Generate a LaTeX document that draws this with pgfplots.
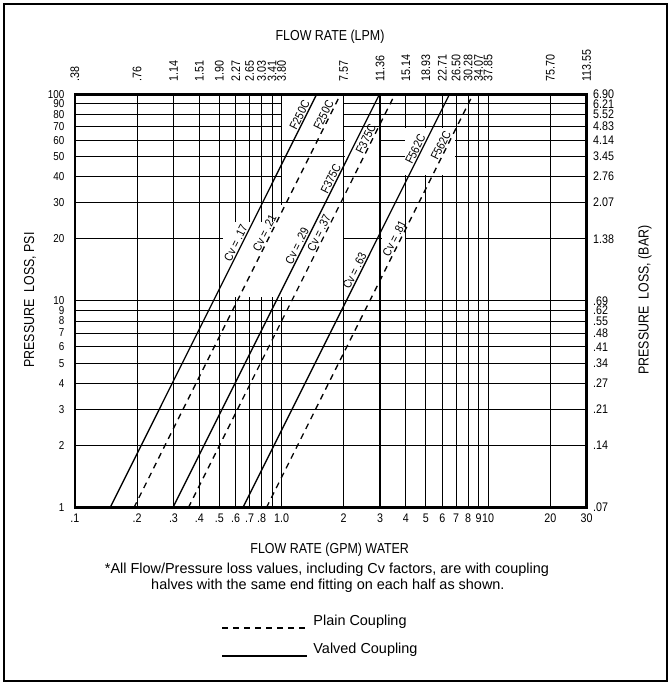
\documentclass[border=0pt]{standalone}
\usepackage{fontspec}
\setmainfont{Liberation Sans}[FakeStretch=0.86]
\newfontfamily\plainfont{Liberation Sans}
\usepackage{pgfplots}
\pgfplotsset{compat=1.18}

\newcommand{\tickfont}{\fontsize{12.5}{14}\selectfont}
\newcommand{\lefttickfont}{\fontsize{11.5}{13}\selectfont}
\newcommand{\curvefont}{\fontsize{12}{13}\selectfont}
\newcommand{\titlefont}{\fontsize{14.5}{16}\selectfont}
\newcommand{\notefont}{\plainfont\fontsize{14.5}{16}\selectfont}

\begin{document}
\begin{tikzpicture}
  % page = 671 x 685 bp, origin at the lower left corner of the plot box
  \path[use as bounding box] (-74.9bp,-177.3bp) rectangle (596.1bp,507.7bp);

  \begin{axis}[
      xmode=log, ymode=log,
      scale only axis, width=511.8bp, height=413.4bp,
      xmin=0.1, xmax=30, ymin=1, ymax=100,
      xtick={0.1,0.2,0.3,0.4,0.5,0.6,0.7,0.8,0.9,1,2,3,4,5,6,7,8,9,10,20,30},
      xticklabels={.1,.2,.3,.4,.5,.6,.7,.8,,1.0,2,3,4,5,6,7,8,9,10,20,30},
      ytick={1,2,3,4,5,6,7,8,9,10,20,30,40,50,60,70,80,90,100},
      yticklabels={1,2,3,4,5,6,7,8,9,10,20,30,40,50,60,70,80,90,100},
      grid=major,
      major grid style={black, line width=1bp},
      major tick length=0pt, minor tick length=0pt,
      axis line style={line width=2.6bp},
      xticklabel style={font=\tickfont, yshift=-3bp},
      yticklabel style={font=\lefttickfont, xshift=-7bp},
    ]
    % blank areas behind the line labels
    \fill[white] (axis cs:1.01,61.5) rectangle (axis cs:1.98,98.3);
    \fill[white] (axis cs:1.01,31) rectangle (axis cs:1.98,49);
    \fill[white] (axis cs:2.02,42) rectangle (axis cs:2.96,68);
    \fill[white] (axis cs:3.97,40.5) rectangle (axis cs:6.95,69);
    \fill[white] (axis cs:0.52,10.4) rectangle (axis cs:0.98,24);
    \fill[white] (axis cs:0.98,10.4) rectangle (axis cs:1.98,29.2);
    \fill[white] (axis cs:2.02,10.4) rectangle (axis cs:2.95,19.3);
    \fill[white] (axis cs:3.06,13) rectangle (axis cs:3.96,29.2);

    % heavy 3 GPM line
    \addplot[black, line width=2bp] coordinates {(3,1) (3,100)};

    % valved coupling (solid)
    \addplot[black, line width=1.3bp] coordinates {(0.148,1) (1.48,100)};
    \addplot[black, line width=1.3bp] coordinates {(0.298,1) (2.98,100)};
    \addplot[black, line width=1.3bp] coordinates {(0.650,1) (6.50,100)};
    % plain coupling (dashed)
    \addplot[black, line width=1.3bp, dash pattern=on 6bp off 5bp] coordinates {(0.193,1) (1.93,100)};
    \addplot[black, line width=1.3bp, dash pattern=on 6bp off 5bp] coordinates {(0.354,1) (3.54,100)};
    \addplot[black, line width=1.3bp, dash pattern=on 6bp off 5bp] coordinates {(0.845,1) (8.45,100)};

    \begin{scope}[every node/.style={rotate=63.4, anchor=south, inner sep=1.5bp, font=\curvefont}]
      \node at (axis cs:1.299,77) {F250C};
      \node at (axis cs:1.694,77) {F250C};
      \node at (axis cs:1.837,38) {F375C};
      \node at (axis cs:2.719,59) {F375C};
      \node at (axis cs:4.719,52.7) {F562C};
      \node at (axis cs:6.267,55) {F562C};
      \node at (axis cs:0.637,18.5) {Cv = .17};
      \node at (axis cs:0.878,20.7) {Cv = .21};
      \node at (axis cs:1.261,17.9) {Cv = .29};
      \node at (axis cs:1.611,20.7) {Cv = .37};
      \node at (axis cs:2.397,13.6) {Cv = .63};
      \node at (axis cs:3.731,19.5) {Cv = .81};
    \end{scope}
  \end{axis}

  % litres per minute and bar scales
  \begin{axis}[
      xmode=log, ymode=log,
      scale only axis, width=511.8bp, height=413.4bp,
      xmin=0.1, xmax=30, ymin=1, ymax=100,
      axis line style={draw=none},
      major tick length=0pt, minor tick length=0pt,
      xticklabel pos=upper, yticklabel pos=right,
      xtick={0.1,0.2,0.3,0.4,0.5,0.6,0.7,0.8,0.9,1,2,3,4,5,6,7,8,9,10,20,30},
      xticklabels={.38,.76,1.14,1.51,1.90,2.27,2.65,3.03,3.41,3.80,7.57,11.36,15.14,18.93,22.71,26.50,30.28,34.07,37.85,75.70,113.55},
      ytick={1,2,3,4,5,6,7,8,9,10,20,30,40,50,60,70,80,90,100},
      yticklabels={.07,.14,.21,.27,.34,.41,.48,.55,.62,.69,1.38,2.07,2.76,3.45,4.14,4.83,5.52,6.21,6.90},
      ticklabel style={font=\tickfont},
      xticklabel style={rotate=90, anchor=west, xshift=9bp},
      yticklabel style={xshift=3bp},
    ]
  \end{axis}

  \node[font=\titlefont] at (255.1bp,470.7bp) {FLOW RATE (LPM)};
  \node[font=\titlefont] at (254.8bp,-42.3bp) {FLOW RATE (GPM) WATER};
  \node[font=\notefont] at (252bp,-62.3bp) {*All Flow/Pressure loss values, including Cv factors, are with coupling};
  \node[font=\notefont] at (253bp,-78.3bp) {halves with the same end fitting on each half as shown.};
  \node[font=\titlefont, rotate=90] at (-44.9bp,207.7bp) {PRESSURE\ \ LOSS, PSI};
  \node[font=\titlefont, rotate=90] at (570.1bp,207.7bp) {PRESSURE\ \ LOSS, (BAR)};

  % key
  \draw[line width=1.3bp, dash pattern=on 6bp off 5bp] (147.1bp,-120.3bp) -- (232.1bp,-120.3bp);
  \node[font=\notefont, anchor=west] at (235bp,-114.3bp) {Plain Coupling};
  \draw[line width=1.6bp] (147.1bp,-148.3bp) -- (232.1bp,-148.3bp);
  \node[font=\notefont, anchor=west] at (235bp,-142.3bp) {Valved Coupling};

  % outer frame
  \draw[line width=1.8bp] (-70.9bp,-173.3bp) rectangle (592.1bp,503.7bp);
\end{tikzpicture}
\end{document}
